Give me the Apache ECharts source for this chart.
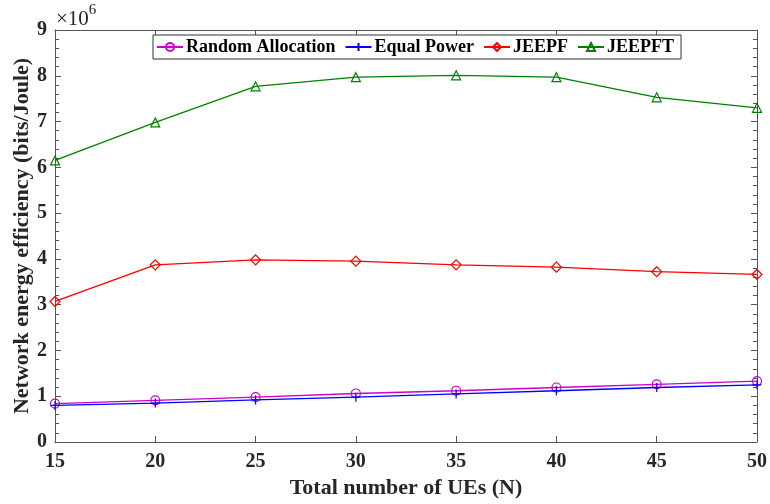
<!DOCTYPE html>
<html>
<head>
<meta charset="utf-8">
<script src="https://cdn.jsdelivr.net/npm/echarts@6/dist/echarts.min.js"></script>
<style>html,body{margin:0;padding:0;background:#fff}#c{width:770px;height:504px}</style>
</head>
<body>
<div id="c"></div>
<script>
const users = [15, 20, 25, 30, 35, 40, 45, 50];
const randomAllocation = [0.84, 0.91, 0.98, 1.06, 1.12, 1.19, 1.26, 1.33];
const equalPower = [0.80, 0.85, 0.92, 0.98, 1.05, 1.12, 1.19, 1.25];
const jeepf = [3.07, 3.87, 3.98, 3.95, 3.87, 3.82, 3.72, 3.66];
const jeepft = [6.15, 6.98, 7.77, 7.97, 8.01, 7.97, 7.53, 7.30];
const seriesNames = ['Random Allocation', 'Equal Power', 'JEEPF', 'JEEPFT'];

const font = '"Liberation Serif", "Times New Roman", serif';
const axisColor = '#555';
const txt = '#262626';

function pairs(vals) { return users.map((u, i) => [u, vals[i]]); }

function mk(name, vals, color, symbol, size) {
  return {
    name: name, type: 'line', data: pairs(vals),
    symbol: symbol, symbolSize: size,
    lineStyle: { color: color, width: 1.3 },
    itemStyle: { color: 'rgba(255,255,255,0)', borderColor: color, borderWidth: 1.2 },
    emphasis: { disabled: true },
    z: 3
  };
}

const chart = echarts.init(document.getElementById('c'), null, { renderer: 'canvas' });
chart.setOption({
  animation: false,
  backgroundColor: '#fff',
  grid: { left: 55, right: 13, top: 30, bottom: 62, containLabel: false, outerBoundsMode: 'none' },
  legend: {
    left: 153, top: 35,
    data: seriesNames,
    backgroundColor: '#fff',
    borderColor: '#333', borderWidth: 1,
    padding: [3, 7, 3, 3],
    itemGap: 9, itemWidth: 26, itemHeight: 10,
    textStyle: { fontFamily: font, fontWeight: 'bold', fontSize: 18, color: '#000', padding: [0, 0, 0, -2] }
  },
  xAxis: [{
    type: 'value', min: 15, max: 50, interval: 5,
    name: 'Total number of UEs (N)', nameLocation: 'middle', nameGap: 35, nameMoveOverlap: false,
    nameTextStyle: { fontFamily: font, fontWeight: 'bold', fontSize: 22, color: txt },
    axisLine: { show: true, lineStyle: { color: axisColor, width: 1 } },
    axisTick: { show: true, inside: true, length: 6, lineStyle: { color: axisColor } },
    axisLabel: { fontFamily: font, fontWeight: 'bold', fontSize: 20, color: txt, margin: 10 },
    splitLine: { show: false }
  }, {
    type: 'value', position: 'top', min: 15, max: 50, interval: 5,
    axisLine: { show: true, onZero: false, lineStyle: { color: axisColor, width: 1 } },
    axisTick: { show: true, inside: true, length: 6, lineStyle: { color: axisColor } },
    axisLabel: { show: false }, splitLine: { show: false }
  }],
  yAxis: [{
    type: 'value', min: 0, max: 9, interval: 1,
    name: 'Network energy efficiency (bits/Joule)', nameLocation: 'middle', nameGap: 22, nameMoveOverlap: false,
    nameTextStyle: { fontFamily: font, fontWeight: 'bold', fontSize: 22, color: txt },
    axisLine: { show: true, lineStyle: { color: axisColor, width: 1 } },
    axisTick: { show: true, inside: true, length: 6, lineStyle: { color: axisColor } },
    minorTick: { show: true, splitNumber: 5, length: 4, lineStyle: { color: axisColor } },
    axisLabel: { fontFamily: font, fontWeight: 'bold', fontSize: 20, color: txt, margin: 8 },
    splitLine: { show: false }
  }, {
    type: 'value', position: 'right', min: 0, max: 9, interval: 1,
    axisLine: { show: true, onZero: false, lineStyle: { color: axisColor, width: 1 } },
    axisTick: { show: true, inside: true, length: 6, lineStyle: { color: axisColor } },
    minorTick: { show: true, splitNumber: 5, length: 4, lineStyle: { color: axisColor } },
    axisLabel: { show: false }, splitLine: { show: false }
  }],
  graphic: [{
    type: 'text', left: 56, top: 3,
    style: {
      text: '{a|×10}{b|6}',
      rich: {
        a: { fontFamily: font, fontSize: 21, fill: txt, verticalAlign: 'bottom', lineHeight: 26 },
        b: { fontFamily: font, fontSize: 15, fill: txt, verticalAlign: 'top', padding: [0, 0, 12, 0] }
      }
    }
  }],
  series: [
    mk(seriesNames[0], randomAllocation, '#cc00cc', 'circle', 9),
    mk(seriesNames[1], equalPower, '#0000ff', 'path://M5,0L5,10M0,5L10,5', 9),
    mk(seriesNames[2], jeepf, '#ff0000', 'diamond', 10),
    mk(seriesNames[3], jeepft, '#008000', 'triangle', 9)
  ]
});
</script>
</body>
</html>
